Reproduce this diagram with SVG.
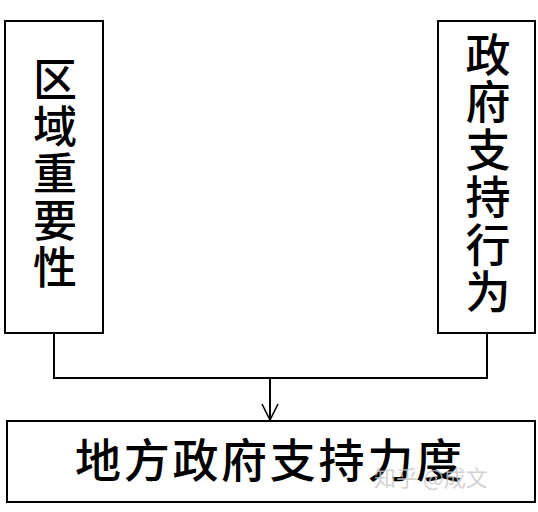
<svg xmlns="http://www.w3.org/2000/svg" width="538" height="512" viewBox="0 0 538 512">
<style>
.box{fill:#fff;stroke:#000;stroke-width:2}
.lbl{font-family:"Noto Sans CJK SC","Noto Sans",sans-serif;fill:#000;font-weight:500}
.v{writing-mode:vertical-rl;text-orientation:upright}
.wire{fill:none;stroke:#000;stroke-width:2}
.wm{font-family:"Noto Sans CJK SC",sans-serif;font-size:22px;fill:#c8c8c8;opacity:0.8}
</style>
<defs>
<marker id="arr" markerWidth="20" markerHeight="20" refX="17" refY="9" orient="auto" markerUnits="userSpaceOnUse" viewBox="0 0 20 20">
<path d="M1,1 L17,9 L1,17" fill="none" stroke="#000" stroke-width="1.6"/>
</marker>
</defs>
<rect width="538" height="512" fill="#fff"/>
<g id="connectors">
<path class="wire" d="M54,333 V378 H487 V333"/>
<path class="wire" d="M270,378 V420" marker-end="url(#arr)"/>
</g>
<g id="node-left">
<rect class="box" x="5" y="21" width="98" height="312"/>
<text class="lbl v" x="55" y="57" font-size="44" style="letter-spacing:3px">区域重要性</text>
</g>
<g id="node-right">
<rect class="box" x="438" y="21" width="97" height="312"/>
<text class="lbl v" x="488" y="32" font-size="45" style="letter-spacing:2.5px">政府支持行为</text>
</g>
<g id="node-bottom">
<rect class="box" x="7" y="421" width="528" height="81"/>
<text class="lbl" font-size="46" x="75" y="477" style="letter-spacing:2.7px">地方政府支持力度</text>
</g>
<text class="wm" x="374" y="486">知乎 @成文</text>
</svg>
